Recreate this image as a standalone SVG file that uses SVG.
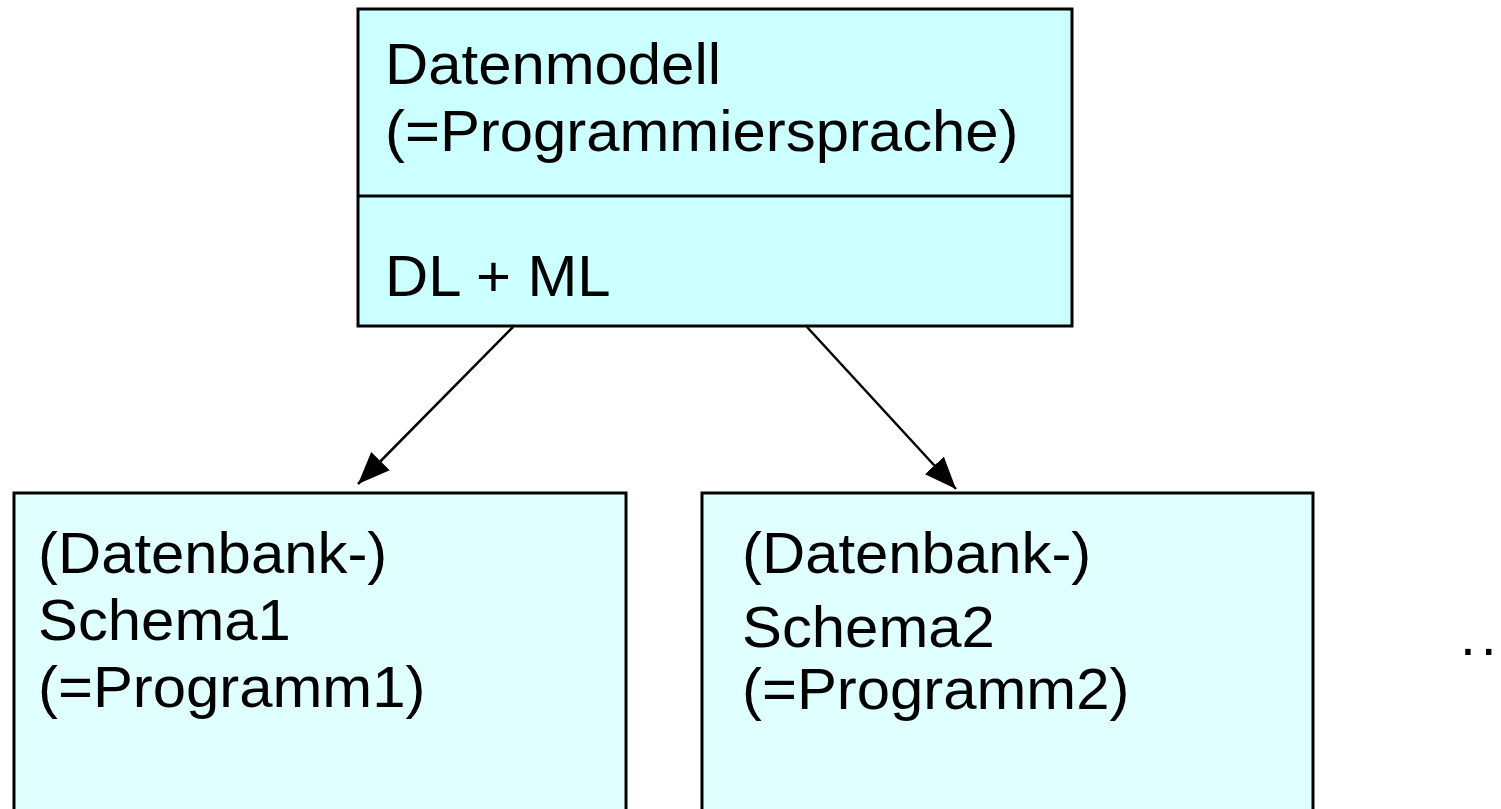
<svg xmlns="http://www.w3.org/2000/svg" width="1501" height="809" viewBox="0 0 1501 809">
<style>
.box{stroke:#000;stroke-width:3}
.top{fill:#ccffff}
.sub{fill:#e0ffff}
.t{font-family:"Liberation Sans",Arial,sans-serif;font-size:57px;fill:#000}
.c{stroke:#000;stroke-width:2.5;fill:none}
</style>
<defs>
<marker id="ah" markerUnits="userSpaceOnUse" markerWidth="34" markerHeight="26" refX="32" refY="13" orient="auto">
<path d="M0,0 L32,13 L0,26 Z" fill="#000"/>
</marker>
</defs>
<rect width="1501" height="809" fill="#fff"/>
<g id="datenmodell">
<rect class="box top" x="358" y="9" width="714" height="317"/>
<line class="box" x1="358" y1="196" x2="1072" y2="196"/>
<g transform="translate(385,0) scale(1.05,1)">
<text class="t" x="0" y="84">Datenmodell</text>
<text class="t" x="0" y="151">(=Programmiersprache)</text>
<text class="t" x="0" y="296">DL + ML</text>
</g>
</g>
<g id="schema1">
<rect class="box sub" x="14" y="493" width="612" height="340"/>
<g transform="translate(38,0) scale(1.05,1)">
<text class="t" x="0" y="573">(Datenbank-)</text>
<text class="t" x="0" y="640">Schema1</text>
<text class="t" x="0" y="707">(=Programm1)</text>
</g>
</g>
<g id="schema2">
<rect class="box sub" x="702" y="493" width="611" height="340"/>
<g transform="translate(742,0) scale(1.05,1)">
<text class="t" x="0" y="573">(Datenbank-)</text>
<text class="t" x="0" y="647">Schema2</text>
<text class="t" x="0" y="709">(=Programm2)</text>
</g>
</g>
<g id="ellipsis">
<text class="t" x="1460" y="655" letter-spacing="5">..</text>
</g>
<g id="connectors">
<line class="c" x1="513" y1="327" x2="358" y2="484" marker-end="url(#ah)"/>
<line class="c" x1="807" y1="327" x2="956" y2="489" marker-end="url(#ah)"/>
</g>
</svg>
